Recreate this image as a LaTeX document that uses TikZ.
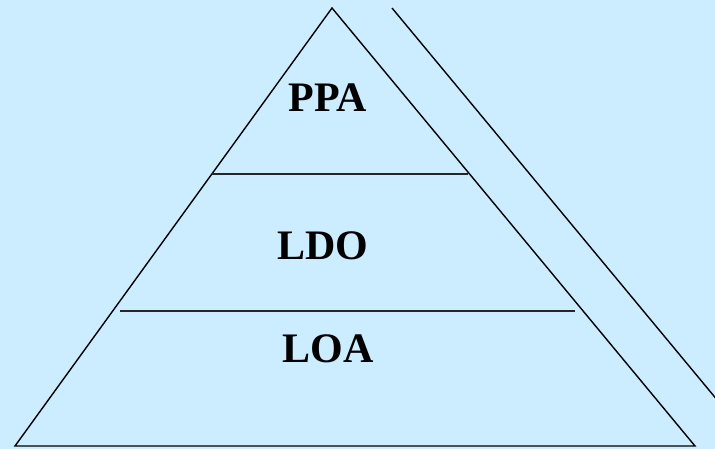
\documentclass[tikz,border=0pt]{standalone}
\usepackage{fontspec}
\setmainfont{Liberation Serif}
\usetikzlibrary{positioning, calc, arrows.meta}

\definecolor{skyback}{HTML}{CCECFF}

\tikzset{
  edge/.style={line width=1.4pt, black},
  divider/.style={line width=1.9pt, black!85},
  level/.style={font=\fontsize{42}{42}\selectfont\bfseries, inner sep=0pt}
}

\begin{document}
\begin{tikzpicture}[x=1pt, y=-1pt]

        % Background and frame
        \fill[skyback] (0,0) rectangle (715,449);
        \useasboundingbox (0,0) rectangle (715,449);
        \clip (0,0) rectangle (715,449);

        % Corners of the pyramid
        \coordinate (apex) at (332,8);
        \coordinate (baseL) at (15,446);
        \coordinate (baseR) at (695,446);

        % Pyramid outline
        \draw[edge] (baseL) -- (apex) -- (baseR) -- cycle;

        % Dividing lines
        \coordinate (topL) at (212,174);
        \coordinate (topR) at (468,174);
        \coordinate (lowL) at (120,311);
        \coordinate (lowR) at (575,311);
        \draw[divider] (topL) -- (topR);
        \draw[divider] (lowL) -- (lowR);

        % Levels
        \node[level] (ppa) at (328,98) {PPA};
        \node[level] (ldo) at (323,246) {LDO};
        \node[level] (loa) at (328,349) {LOA};

        % Side arrow, tip running off the edge
        \coordinate (arrTop) at (392,8);
        \coordinate (arrEnd) at (728,413);
        \draw[edge, -{Stealth[length=12pt, width=9pt]}] (arrTop) -- (arrEnd);

\end{tikzpicture}
\end{document}
